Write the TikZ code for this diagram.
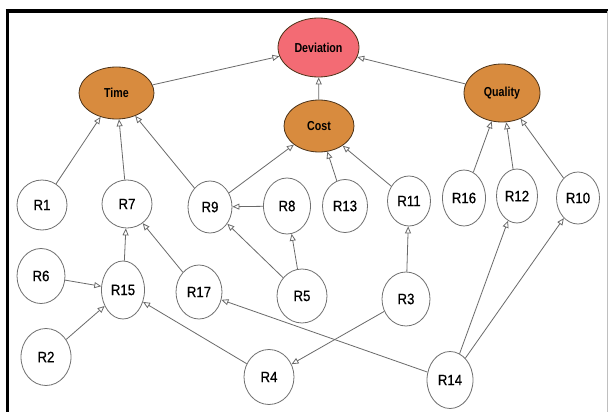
\documentclass[tikz,border=0pt]{standalone}
\usepackage{fontspec}
\setmainfont{Liberation Sans}
\newfontfamily\narrowbold{Liberation Sans}[FakeStretch=0.82]
\newfontfamily\rfont{Liberation Sans}[FakeStretch=0.88,FakeBold=0.6]
\usetikzlibrary{shapes.geometric,arrows.meta}
\definecolor{devred}{HTML}{F36B74}
\definecolor{costor}{HTML}{D88B3E}
\definecolor{edgegray}{HTML}{6A6A6A}
\definecolor{bordgray}{HTML}{707070}
\begin{document}
\begin{tikzpicture}[x=1pt,y=-1pt,
  rnode/.style={ellipse,draw=bordgray,line width=0.8pt,fill=white,inner sep=0pt,
    font=\rfont\fontsize{15}{15}\selectfont},
  cnode/.style={ellipse,draw=black!60!brown,line width=0.8pt,inner sep=0pt,
    font=\narrowbold\bfseries\fontsize{13}{13}\selectfont},
  link/.style={draw=edgegray,line width=0.8pt,-{Triangle[open,length=7pt,width=6pt]}}]
\useasboundingbox (0,0) rectangle (608,412);
\fill[white] (0,0) rectangle (608,412);
% frame
\draw[line width=4pt] (5.5,11) -- (608,11);
\draw[line width=3pt] (7,9) -- (7,412);
\draw[line width=0.6pt,black!25] (607.5,11) -- (607.5,412);
% category nodes
\node[cnode,fill=devred,minimum width=81pt,minimum height=59pt] (dev) at (318.5,47.5) {Deviation};
\node[cnode,fill=costor,minimum width=75pt,minimum height=52pt] (time) at (116.5,93) {Time};
\node[cnode,fill=costor,minimum width=70pt,minimum height=52pt] (cost) at (319,126) {Cost};
\node[cnode,fill=costor,minimum width=76pt,minimum height=58pt] (qual) at (502,93) {Quality};
% risk nodes
\node[rnode,minimum width=50pt,minimum height=50pt] (r1) at (42,205) {R1};
\node[rnode,minimum width=50pt,minimum height=48pt] (r7) at (127,204) {R7};
\node[rnode,minimum width=44pt,minimum height=52pt] (r9) at (210,207) {R9};
\node[rnode,minimum width=47pt,minimum height=56pt] (r8) at (287,206) {R8};
\node[rnode,minimum width=45pt,minimum height=53pt] (r13) at (345,206) {R13};
\node[rnode,minimum width=43pt,minimum height=50pt] (r11) at (409,201) {R11};
\node[rnode,minimum width=43pt,minimum height=56pt] (r16) at (464,198) {R16};
\node[rnode,minimum width=41pt,minimum height=54pt] (r12) at (517,196) {R12};
\node[rnode,minimum width=43pt,minimum height=52pt] (r10) at (578,198) {R10};
\node[rnode,minimum width=48pt,minimum height=55pt] (r6) at (41,276) {R6};
\node[rnode,minimum width=43pt,minimum height=58pt] (r15) at (123,290) {R15};
\node[rnode,minimum width=46pt,minimum height=54pt] (r17) at (199,292) {R17};
\node[rnode,minimum width=50pt,minimum height=54pt] (r5) at (302,296) {R5};
\node[rnode,minimum width=48pt,minimum height=54pt] (r3) at (406,299) {R3};
\node[rnode,minimum width=50pt,minimum height=57pt] (r2) at (46,357) {R2};
\node[rnode,minimum width=50pt,minimum height=55pt] (r4) at (269,377) {R4};
\node[rnode,minimum width=46pt,minimum height=57pt] (r14) at (450,380) {R14};
% connectors
\draw[link] (time) -- (dev);
\draw[link] (cost) -- (dev);
\draw[link] (qual) -- (dev);
\draw[link] (r1) -- (time);
\draw[link] (r7) -- (time);
\draw[link] (r9) -- (time);
\draw[link] (r9) -- (cost);
\draw[link] (r13) -- (cost);
\draw[link] (r11) -- (cost);
\draw[link] (r8) -- (r9);
\draw[link] (r16) -- (qual);
\draw[link] (r12) -- (qual);
\draw[link] (r10) -- (qual);
\draw[link] (r15) -- (r7);
\draw[link] (r17) -- (r7);
\draw[link] (r6) -- (r15);
\draw[link] (r2) -- (r15);
\draw[link] (r4) -- (r15);
\draw[link] (r5) -- (r9);
\draw[link] (r5) -- (r8);
\draw[link] (r3) -- (r11);
\draw[link] (r3) -- (r4);
\draw[link] (r14) -- (r17);
\draw[link] (r14) -- (r12);
\draw[link] (r14) -- (r10);
\end{tikzpicture}
\end{document}
